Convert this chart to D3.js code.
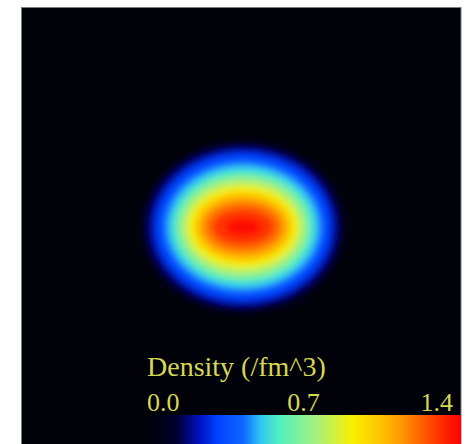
<!DOCTYPE html>
<html><head><meta charset="utf-8">
<script src="https://cdn.jsdelivr.net/npm/d3@7"></script>
<style>html,body{margin:0;padding:0;background:#fff;}svg{display:block;}</style>
</head><body>
<script>
// Density contour levels (/fm^3) and their semi-axes (fm)
const levels = [0.05, 0.10, 0.20, 0.30, 0.40, 0.50, 0.60, 0.70, 0.80, 0.90, 1.00, 1.10, 1.20, 1.30, 1.38];
const radiusX = [4.73, 4.55, 4.27, 4.00, 3.73, 3.45, 3.18, 2.95, 2.73, 2.50, 2.27, 2.05, 1.77, 1.41, 0.82];
const radiusY = [4.00, 3.82, 3.59, 3.36, 3.09, 2.82, 2.55, 2.32, 2.09, 1.86, 1.64, 1.41, 1.14, 0.82, 0.41];
const centerX = 0.1, centerY = 0.0;
// colour map stops
const stopValues = [0.00, 0.12, 0.22, 0.30, 0.42, 0.50, 0.58, 0.75, 0.91, 1.05, 1.15, 1.25, 1.35, 1.40];
const stopColors = ["#00000a", "#000030", "#0010c0", "#0040ff", "#1068ff", "#30c8f0", "#50f0c0", "#a8f080", "#f8f000", "#ffc000", "#ff8c00", "#ff5000", "#ff1800", "#ff0000"];
const tickValues = [0.0, 0.7, 1.4];
const tickLabels = ["0.0", "0.7", "1.4"];
const title = "Density (/fm^3)";

const W = 468, H = 444;
const svg = d3.select("body").append("svg").attr("width", W).attr("height", H);

const color = d3.scaleLinear().domain(stopValues).range(stopColors).clamp(true);
const x = d3.scaleLinear().domain([-10, 10]).range([21, 461]);
const y = d3.scaleLinear().domain([10, -10]).range([7, 447]);

// panel
svg.append("rect").attr("x", 21.5).attr("y", 7.5).attr("width", 439.5).attr("height", 450)
  .attr("fill", "#01010a").attr("stroke", "#7c7c84").attr("stroke-width", 1);

const defs = svg.append("defs");
defs.append("filter").attr("id", "blur").attr("x", "-20%").attr("y", "-20%").attr("width", "140%").attr("height", "140%")
  .append("feGaussianBlur").attr("stdDeviation", 3.2);

const g = svg.append("g").attr("filter", "url(#blur)");
g.selectAll("ellipse").data(levels).join("ellipse")
  .attr("cx", (d, i) => x(centerX))
  .attr("cy", (d, i) => y(centerY))
  .attr("rx", (d, i) => x(radiusX[i]) - x(0))
  .attr("ry", (d, i) => y(0) - y(radiusY[i]))
  .attr("fill", d => color(d));

// colour bar
const cb = d3.scaleLinear().domain([0, 1.4]).range([150, 461]);
const grad = defs.append("linearGradient").attr("id", "cbar").attr("x1", "0").attr("x2", "1").attr("y1", "0").attr("y2", "0");
grad.selectAll("stop").data(stopValues).join("stop")
  .attr("offset", d => d / 1.4).attr("stop-color", (d, i) => stopColors[i]);
svg.append("rect").attr("x", cb(0)).attr("y", 415).attr("width", cb(1.4) - cb(0)).attr("height", 30)
  .attr("fill", "url(#cbar)");

const txtColor = "#d6d852";
svg.append("text").attr("x", 147).attr("y", 376).text(title)
  .attr("font-family", "Liberation Serif, Times New Roman, serif").attr("font-size", 28).attr("fill", txtColor);
svg.selectAll("text.tick").data(tickValues).join("text").attr("class", "tick")
  .attr("x", (d, i) => i === 0 ? cb(d) - 3 : i === 1 ? cb(d) - 2 : cb(d) - 8)
  .attr("y", 411)
  .attr("text-anchor", (d, i) => i === 0 ? "start" : i === 1 ? "middle" : "end")
  .attr("font-family", "Liberation Serif, Times New Roman, serif").attr("font-size", 26).attr("fill", txtColor)
  .text((d, i) => tickLabels[i]);
</script>
</body></html>
